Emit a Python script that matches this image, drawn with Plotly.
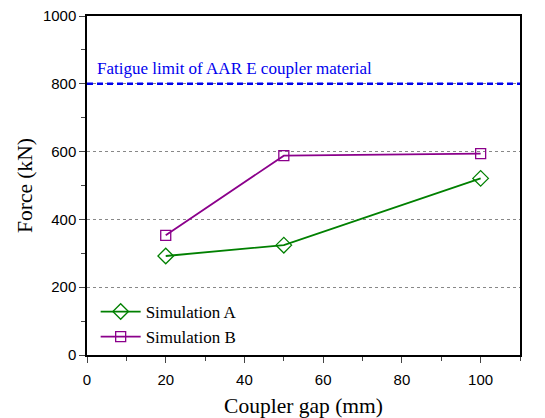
import plotly.graph_objects as go

gap = [20, 50, 100]
sim_a = [292, 324, 521]
sim_b = [353, 588, 594]
limit = 800
x_ticks = [0, 20, 40, 60, 80, 100]
y_ticks = [0, 200, 400, 600, 800, 1000]

SERIF = "Times New Roman, Liberation Serif, serif"

fig = go.Figure()
fig.add_trace(go.Scatter(
    x=[0, 110], y=[limit, limit], mode="lines",
    line=dict(color="#0000ee", width=2.5, dash="6px,4px"),
    showlegend=False, hoverinfo="skip"))
fig.add_trace(go.Scatter(
    x=gap, y=sim_a, mode="lines+markers", name="Simulation A",
    line=dict(color="#008000", width=1.8),
    marker=dict(symbol="diamond-open", size=12, color="#008000", line=dict(width=1.3))))
fig.add_trace(go.Scatter(
    x=gap, y=sim_b, mode="lines+markers", name="Simulation B",
    line=dict(color="#8b008b", width=1.8),
    marker=dict(symbol="square-open", size=10, color="#8b008b", line=dict(width=1.3))))

fig.add_annotation(x=2, y=845, xref="x", yref="y", text="Fatigue limit of AAR E coupler material",
                   showarrow=False, xanchor="left", yanchor="middle",
                   font=dict(family=SERIF, size=17, color="#0000ee"))

fig.update_layout(
    width=545, height=418,
    margin=dict(l=87, r=25, t=16, b=63, autoexpand=False),
    paper_bgcolor="white", plot_bgcolor="white",
    legend=dict(x=0.02, y=0.18, xanchor="left", yanchor="top",
                font=dict(family=SERIF, size=17, color="black"),
                bgcolor="rgba(0,0,0,0)", itemwidth=40, tracegroupgap=0),
    font=dict(family="Liberation Sans", size=15, color="black"),
)
fig.update_xaxes(
    range=[0, 110], tickvals=x_ticks, ticks="outside", ticklen=6, tickwidth=1,
    ticklabelstandoff=4,
    minor=dict(dtick=10, tick0=0, ticks="outside", ticklen=4, tickwidth=1),
    showgrid=False, zeroline=False, showline=True, linecolor="black", linewidth=1.5,
    mirror=True, automargin=False,
    title=dict(text="Coupler gap (mm)", font=dict(family=SERIF, size=21.5), standoff=14),
)
fig.update_yaxes(
    range=[0, 1000], tickvals=y_ticks, ticks="outside", ticklen=6, tickwidth=1,
    minor=dict(dtick=100, tick0=0, ticks="outside", ticklen=4, tickwidth=1),
    showgrid=True, gridcolor="#888888", griddash="3px,3px", gridwidth=1,
    zeroline=False, showline=True, linecolor="black", linewidth=1.5, mirror=True,
    automargin=False,
    title=dict(text="Force (kN)", font=dict(family=SERIF, size=21.5), standoff=4),
)
fig.write_html("out.html")
